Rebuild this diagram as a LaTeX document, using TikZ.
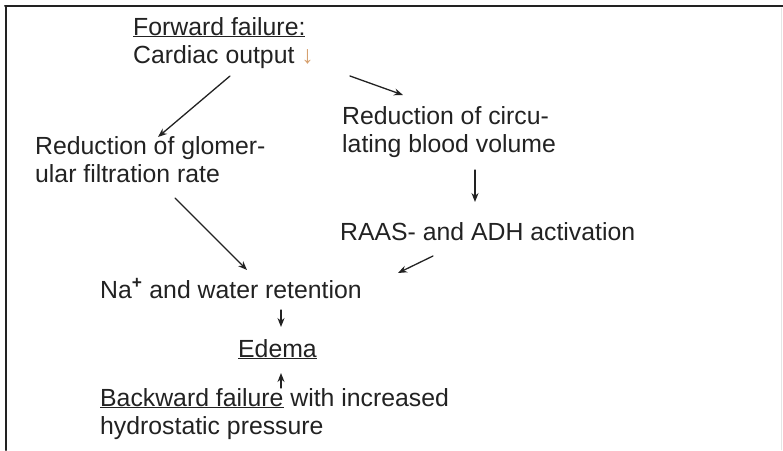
\documentclass[tikz,border=0pt]{standalone}
\usepackage{fontspec}
\setmainfont{Liberation Sans}
\usetikzlibrary{arrows.meta}
\definecolor{txtc}{RGB}{34,34,34}
\definecolor{downc}{RGB}{214,160,110}
\begin{document}
\begin{tikzpicture}[x=1pt,y=-1pt,line join=round,line cap=round,>={Stealth[length=9pt,width=7pt]},
  lbl/.style={anchor=base west,inner sep=0pt,align=left,text=txtc,font=\fontsize{24.8}{28}\selectfont},
  arr/.style={->,line width=1.3pt,draw=txtc}]
  \useasboundingbox (0,0) rectangle (783,450);
  \draw[line width=2pt,draw=txtc] (5,6) -- (783,6);
  \draw[line width=2pt,draw=txtc] (6,6) -- (6,450);
  \draw[line width=0.6pt,black!10] (781,8) -- (781,450);
  \node[lbl] (fwd) at (133,63) {\underline{Forward failure:}\\Cardiac output {\color{downc}\bfseries ↓}};
  \node[lbl] (gfr) at (35,182) {Reduction of glomer-\\ular filtration rate};
  \node[lbl] (cbv) at (342,152) {Reduction of circu-\\lating blood volume};
  \node[lbl] (raas) at (340,240) {RAAS- and ADH activation};
  \node[lbl] (na) at (100,298) {Na\textsuperscript{\bfseries +} and water retention};
  \node[lbl] (edema) at (238,357) {\underline{Edema}};
  \node[lbl] (back) at (100,434) {\underline{Backward failure} with increased\\hydrostatic pressure};
  \draw[arr] ([shift={(97,13)}]fwd.base west) -- ([shift={(123,-45)}]gfr.base west);
  \draw[arr] ([shift={(217,13)}]fwd.base west) -- ([shift={(61,-57)}]cbv.base west);
  \draw[arr] ([shift={(133,18)}]cbv.base west) -- ([shift={(135,-38)}]raas.base west);
  \draw[arr] ([shift={(140,16)}]gfr.base west) -- ([shift={(147,-28)}]na.base west);
  \draw[arr] ([shift={(93,16)}]raas.base west) -- ([shift={(298,-25)}]na.base west);
  \draw[arr] ([shift={(181,12)}]na.base west) -- ([shift={(43,-30)}]edema.base west);
  \draw[arr] ([shift={(181,-46)}]back.base west) -- ([shift={(43,16)}]edema.base west);
\end{tikzpicture}
\end{document}
